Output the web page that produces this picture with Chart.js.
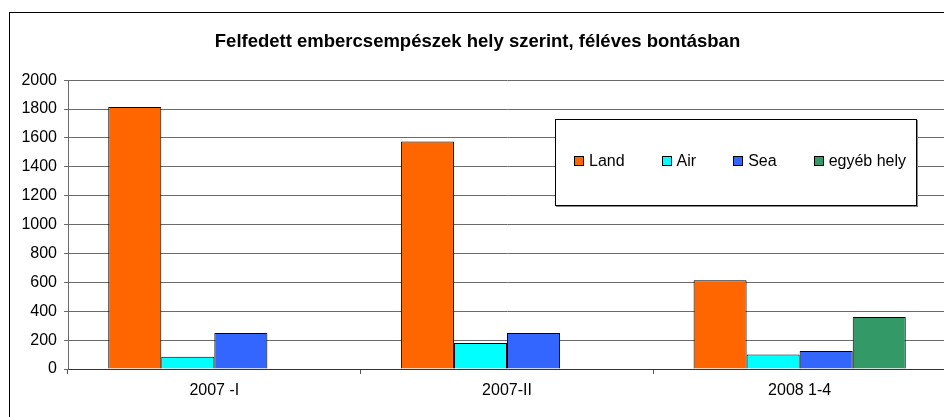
<!DOCTYPE html>
<html>
<head>
<meta charset="utf-8">
<script src="https://cdn.jsdelivr.net/npm/chart.js@4"></script>
<style>
  html, body { margin:0; padding:0; background:#fff; overflow:hidden; width:944px; height:417px; }
  #wrap { position:relative; width:960px; height:417px; }
  #legend { position:absolute; left:555px; top:119px; height:82px; border:1px solid #000;
            background:#fff; box-shadow:1px 1px 0 #888; font:16px "Liberation Sans", Arial, sans-serif;
            display:flex; align-items:center; padding-left:18px; padding-bottom:3px; box-sizing:content-box; width:342px; }
  #legend .item { display:flex; align-items:center; margin-right:37px; white-space:nowrap; }
  #legend .item:last-child { margin-right:0; }
  #legend .box { width:8px; height:8px; border:1px solid #000; margin-right:5px; }
</style>
</head>
<body>
<div id="wrap">
  <canvas id="chart" width="960" height="417"></canvas>
  <div id="legend"></div>
</div>
<script>
const categories = ['2007 -I', '2007-II', '2008 1-4'];
const seriesNames = ['Land', 'Air', 'Sea', 'egyéb hely'];
const land = [1815, 1575, 615];
const air = [85, 180, 100];
const sea = [250, 250, 125];
const other = [null, null, 360];
const colors = ['#FF6600', '#00FFFF', '#3366FF', '#339966'];
const yTicks = [0, 200, 400, 600, 800, 1000, 1200, 1400, 1600, 1800, 2000];

const FONT = '"Liberation Sans", Arial, sans-serif';

// outer frame of the chart (its right and bottom edges fall outside the picture)
const framePlugin = {
    id: 'frame',
    afterDraw(chart) {
        const ctx = chart.ctx;
        ctx.save();
        ctx.strokeStyle = '#000'; ctx.lineWidth = 1;
        ctx.strokeRect(9.5, 12.5, 1000, 500);
        ctx.restore();
    }
};

const chart = new Chart(document.getElementById('chart'), {
    type: 'bar',
    data: {
        labels: categories,
        datasets: [land, air, sea, other].map((d, i) => ({
            label: seriesNames[i], data: d, backgroundColor: colors[i],
            borderColor: '#000', borderWidth: 1,
            categoryPercentage: 0.725, barPercentage: 1.0
        }))
    },
    options: {
        responsive: false, animation: false,
        layout: { padding: { left: 9, right: 14, top: 12, bottom: 0 } },
        plugins: {
            legend: { display: false },
            tooltip: { enabled: false },
            title: {
                display: true, text: 'Felfedett embercsempészek hely szerint, féléves bontásban',
                color: '#000', font: { family: FONT, size: 18.5, weight: 'bold' },
                padding: { top: 19, bottom: 27 }
            }
        },
        scales: {
            x: {
                grid: { offset: true, drawOnChartArea: false, color: '#555', tickLength: 5 },
                border: { color: '#333' },
                ticks: { color: '#000', font: { family: FONT, size: 16 }, padding: 7 },
                afterFit(s) { s.height = 48; }
            },
            y: {
                min: 0, max: 2000,
                afterBuildTicks(s) { s.ticks = yTicks.map(v => ({ value: v })); },
                grid: { color: '#6a6a6a', tickLength: 4 },
                border: { color: '#6a6a6a' },
                ticks: { color: '#000', font: { family: FONT, size: 16 }, padding: 7,
                         callback: v => String(v) },
                afterFit(s) { s.width = 59; }
            }
        }
    },
    plugins: [framePlugin]
});

// legend box built from the chart's datasets
const legend = document.getElementById('legend');
chart.data.datasets.forEach(ds => {
    const item = document.createElement('div'); item.className = 'item';
    item.innerHTML = `<span class="box" style="background:${ds.backgroundColor}"></span><span>${ds.label}</span>`;
    legend.appendChild(item);
});
</script>
</body>
</html>
